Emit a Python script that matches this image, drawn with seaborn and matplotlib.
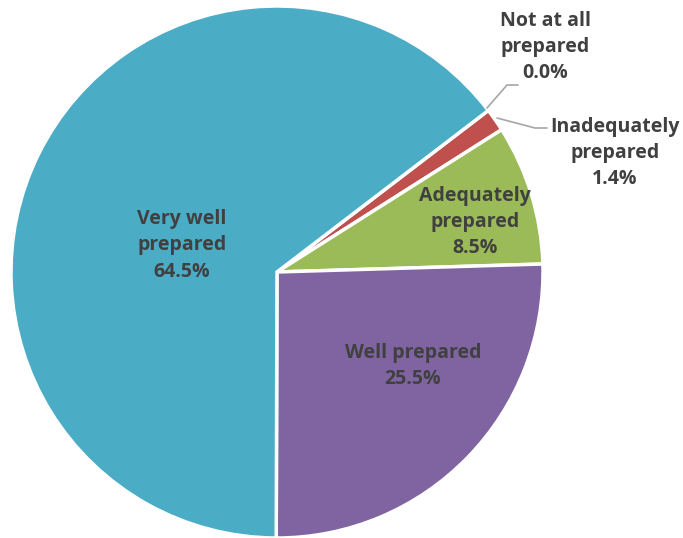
import matplotlib
matplotlib.use("Agg")
import matplotlib.pyplot as plt
import seaborn as sns

# data
labels = ['Not at all\nprepared', 'Inadequately\nprepared', 'Adequately\nprepared',
          'Well prepared', 'Very well\nprepared']
pcts = [0.0, 1.4, 8.5, 25.5, 64.5]
colors = ['#F79646', '#C0504D', '#9BBB59', '#8064A2', '#4BACC6']

sns.set_style("white")
plt.rcParams['font.family'] = ['Open Sans', 'DejaVu Sans']

fig = plt.figure(figsize=(6.83, 5.38), dpi=100)
ax = fig.add_axes([0, 0, 1, 1])

# pie center / radius in pixels
cx, cy, r = 277, 272, 266
W, H = 683, 538

wedges, _ = ax.pie(pcts, colors=colors, startangle=37.4, counterclock=False,
                   radius=1, wedgeprops=dict(edgecolor='white', linewidth=2.5))

# label positions in data coords (radius = 1)
label_pos = [(1.008, 0.846), (1.271, 0.447), (0.744, 0.188), (0.511, -0.353), (-0.357, 0.10)]
for lab, p, (x, y) in zip(labels, pcts, label_pos):
    ax.text(x, y, f"{lab}\n{p:.1f}%", ha='center', va='center', fontsize=14,
            fontweight='bold', color='#404040', linespacing=1.42)

# leader lines for the two small slices
def px(x, y):
    return ((x - cx) / r, (cy - y) / r)

for pts in [[(487, 108), (507, 85), (518, 85)], [(497, 118), (535, 128), (547, 128)]]:
    xy = [px(*p) for p in pts]
    ax.plot([p[0] for p in xy], [p[1] for p in xy], color='#A6A6A6', lw=1.2)

ax.set_xlim(-cx / r, (W - cx) / r)
ax.set_ylim(-(H - cy) / r, cy / r)
ax.set_aspect('auto')
ax.axis('off')

fig.savefig("out.png", dpi=100)
